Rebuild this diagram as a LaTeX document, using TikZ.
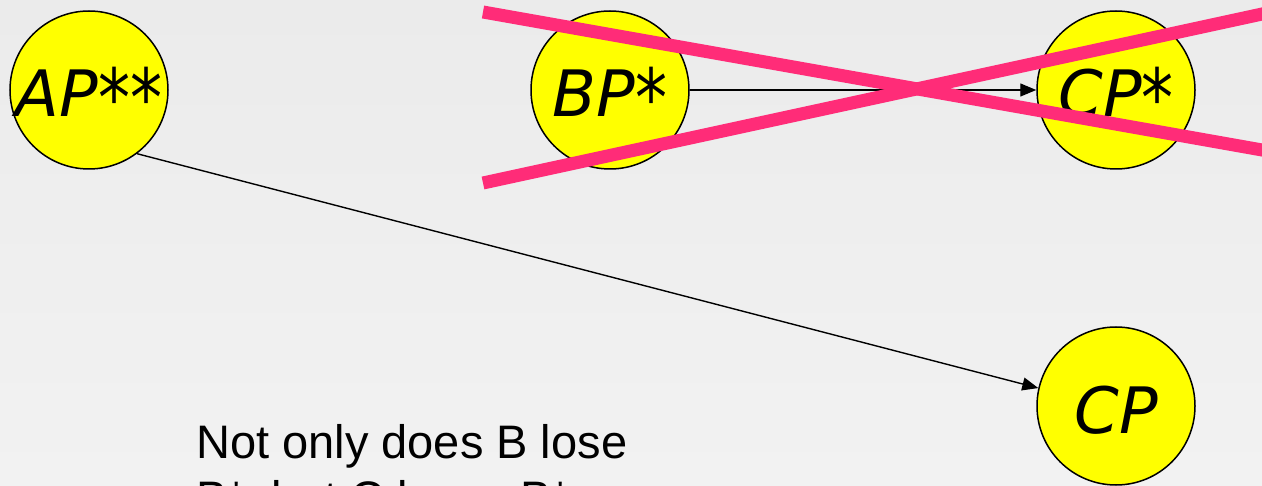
\documentclass[tikz,border=0pt]{standalone}
\usepackage{fontspec}
\setmainfont{Liberation Sans}
\newfontfamily\statefont{DejaVu Sans}
\usetikzlibrary{arrows.meta}
\definecolor{strike}{RGB}{255,44,120}
\definecolor{statefill}{RGB}{255,255,0}
\definecolor{bgtop}{RGB}{235,235,235}
\definecolor{bgbot}{RGB}{242,242,242}
% a taller asterisk for the state labels
\newcommand\sstar{\raisebox{-10pt}{\scalebox{1.0}[1.25]{*}}}
\begin{document}
\begin{tikzpicture}[x=1pt,y=-1pt,
  state/.style={circle, draw=black, line width=1.5pt, fill=statefill,
    minimum size=158pt, inner sep=0pt,
    font=\statefont\itshape\fontsize{64}{64}\selectfont,
    text height=54pt, text depth=0pt},
  link/.style={line width=1.4pt, -{Triangle[length=16pt,width=13pt]}},
  cross/.style={strike, line width=13pt}]
\useasboundingbox (0,0) rectangle (1262,486);
\shade[top color=bgtop, bottom color=bgbot] (0,0) rectangle (1262,486);

% states
\node[state] (AP)  at (89,90)    {AP\sstar\sstar};
\node[state] (BP)  at (610,90)   {BP\sstar};
\node[state] (CPs) at (1116,90)  {CP\sstar};
\node[state] (CP)  at (1116,406) {CP};

% pointers
\draw[link] (BP) -- (CPs);
\draw[link] (AP.-53) -- (CP.167);

% the struck-out pointer
\coordinate (s1a) at (483,12);
\coordinate (s1b) at (1270,151.4);
\coordinate (s2a) at (483,183);
\coordinate (s2b) at (1270,12.3);
\draw[cross] (s1a) -- (s1b);
\draw[cross] (s2a) -- (s2b);

% caption (anchored on the baseline of its last line)
\node[anchor=base west, inner sep=0pt, align=left,
  font=\fontsize{47}{56}\selectfont] (note) at (196,514)
  {Not only does B lose\\B*, but C loses B*};
\end{tikzpicture}
\end{document}
